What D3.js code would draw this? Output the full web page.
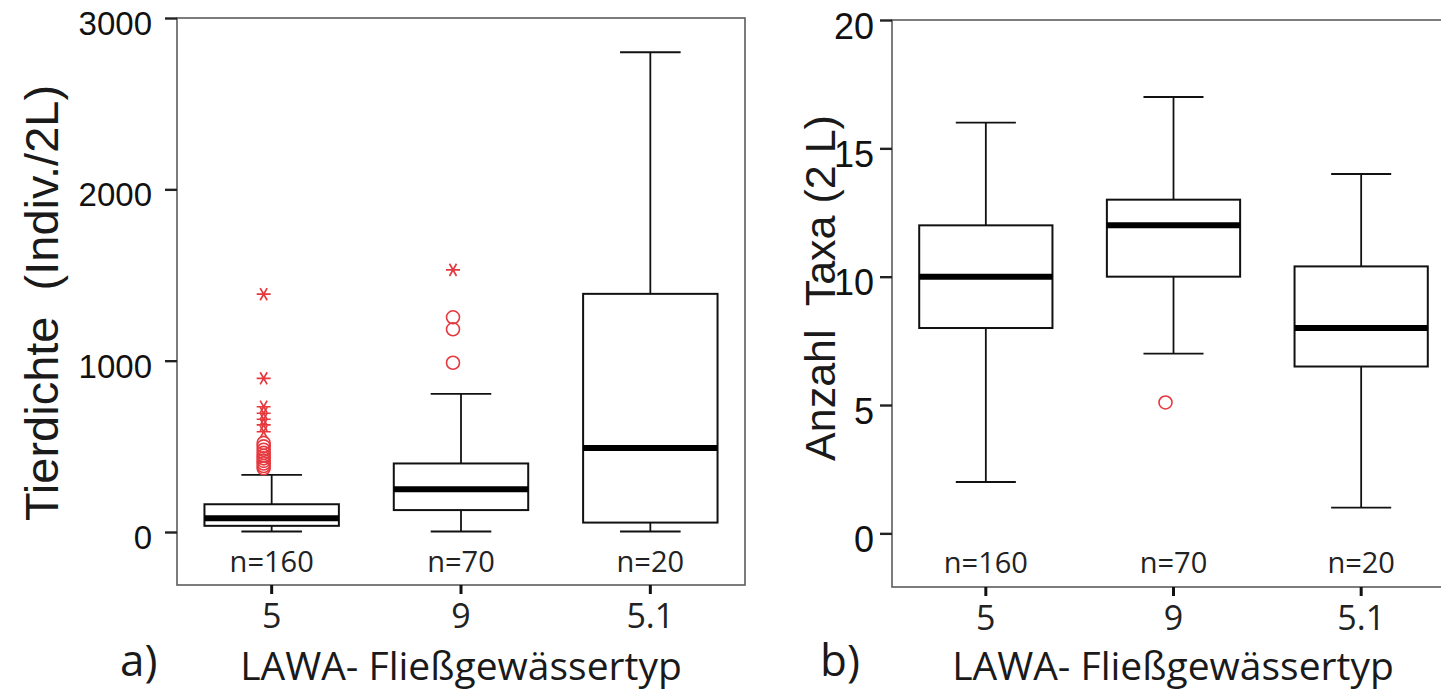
<!DOCTYPE html>
<html>
<head>
<meta charset="utf-8">
<script src="https://cdn.jsdelivr.net/npm/d3@7"></script>
<style>
  html, body { margin: 0; padding: 0; background: #fff; overflow: hidden; }
  text.keep-space { white-space: pre; }
</style>
</head>
<body>
<svg id="chart" width="1441" height="692"></svg>
<script>
// River types (LAWA-Fließgewässertyp) and sample counts
const categories = ["5", "9", "5.1"];
const sampleSizes = [160, 70, 20];

// a) Tierdichte (Indiv./2L)
const densityWhiskerLow = [3, 3, 3];
const densityQ1 = [36, 128, 55];
const densityMedian = [80, 250, 490];
const densityQ3 = [162, 400, 1390];
const densityWhiskerHigh = [333, 806, 2800];
const densityOutliers = [[520, 500, 480, 462, 445, 430, 415, 400, 385, 372], [988, 1183, 1253], []];
const densityExtremes = [[585, 625, 658, 693, 731, 897, 1388], [1530], []];
const densityTicks = [0, 1000, 2000, 3000];

// b) Anzahl Taxa (2 L)
const taxaWhiskerLow = [2, 7, 1];
const taxaQ1 = [8, 10, 6.5];
const taxaMedian = [10, 12, 8];
const taxaQ3 = [12, 13, 10.4];
const taxaWhiskerHigh = [16, 17, 14];
const taxaOutliers = [[], [5.1], []];
const taxaExtremes = [[], [], []];
const taxaTicks = [0, 5, 10, 15, 20];

const svg = d3.select("#chart");
const RED = "#e4393f";
const SANS = "'Liberation Sans', Arial, sans-serif";
const UI = "'Open Sans', 'DejaVu Sans', sans-serif";

function drawPanel(cfg) {
  const g = svg.append("g");
  const x = d3.scaleBand().domain(categories).range([cfg.left, cfg.right]).padding(0);
  const y = d3.scaleLinear().domain(cfg.domain).range([cfg.bottom, cfg.top]);
  const bw = x.bandwidth();
  const boxW = bw * 0.71;
  const capW = bw * 0.32;
  const outDx = -8;

  // frame
  g.append("rect")
    .attr("x", cfg.left).attr("y", cfg.top)
    .attr("width", cfg.right - cfg.left).attr("height", cfg.bottom - cfg.top)
    .attr("fill", "none").attr("stroke", "#5c5c5c").attr("stroke-width", 1.6);

  // y axis
  const ya = g.append("g")
    .attr("transform", `translate(${cfg.left},0)`)
    .call(d3.axisLeft(y).tickValues(cfg.ticks).tickSize(12).tickPadding(cfg.yPad).tickFormat(d3.format("d")));
  ya.select(".domain").remove();
  ya.selectAll(".tick line").attr("stroke", "#222").attr("stroke-width", 2.4);
  ya.selectAll(".tick text")
    .attr("font-family", SANS).attr("font-size", cfg.yFont).attr("fill", "#111")
    .attr("dy", cfg.yDy);

  // x axis
  const xa = g.append("g")
    .attr("transform", `translate(0,${cfg.bottom})`)
    .call(d3.axisBottom(x).tickSize(9).tickPadding(cfg.xPad));
  xa.select(".domain").remove();
  xa.selectAll(".tick line").attr("stroke", "#111").attr("stroke-width", 3);
  xa.selectAll(".tick text")
    .attr("font-family", UI).attr("font-size", cfg.xFont).attr("fill", "#222");

  const rows = categories.map((c, i) => ({
    c, n: cfg.n[i], lo: cfg.lo[i], q1: cfg.q1[i], med: cfg.med[i], q3: cfg.q3[i], hi: cfg.hi[i],
    out: cfg.out[i], ext: cfg.ext[i]
  }));

  const grp = g.selectAll("g.box").data(rows).join("g").attr("class", "box")
    .attr("transform", d => `translate(${x(d.c) + bw / 2},0)`);

  // whiskers
  grp.append("line").attr("x1", 0).attr("x2", 0).attr("y1", d => y(d.lo)).attr("y2", d => y(d.q1))
    .attr("stroke", "#111").attr("stroke-width", 1.8);
  grp.append("line").attr("x1", 0).attr("x2", 0).attr("y1", d => y(d.q3)).attr("y2", d => y(d.hi))
    .attr("stroke", "#111").attr("stroke-width", 1.8);
  grp.append("line").attr("x1", -capW / 2).attr("x2", capW / 2).attr("y1", d => y(d.lo)).attr("y2", d => y(d.lo))
    .attr("stroke", "#111").attr("stroke-width", 1.8);
  grp.append("line").attr("x1", -capW / 2).attr("x2", capW / 2).attr("y1", d => y(d.hi)).attr("y2", d => y(d.hi))
    .attr("stroke", "#111").attr("stroke-width", 1.8);

  // box and median
  grp.append("rect").attr("x", -boxW / 2).attr("width", boxW)
    .attr("y", d => y(d.q3)).attr("height", d => y(d.q1) - y(d.q3))
    .attr("fill", "#fff").attr("stroke", "#111").attr("stroke-width", 2);
  grp.append("line").attr("x1", -boxW / 2).attr("x2", boxW / 2)
    .attr("y1", d => y(d.med)).attr("y2", d => y(d.med))
    .attr("stroke", "#000").attr("stroke-width", 6);

  // outliers (circles) and extreme values (asterisks)
  grp.selectAll("circle.out").data(d => d.out).join("circle").attr("class", "out")
    .attr("cx", outDx).attr("cy", v => y(v)).attr("r", 6.5)
    .attr("fill", "none").attr("stroke", RED).attr("stroke-width", 1.6);
  const star = "M-7,0H7M-3.5,-6.1L3.5,6.1M-3.5,6.1L3.5,-6.1";
  grp.selectAll("path.ext").data(d => d.ext).join("path").attr("class", "ext")
    .attr("transform", v => `translate(${outDx},${y(v)})`)
    .attr("d", star).attr("fill", "none").attr("stroke", RED).attr("stroke-width", 1.7);

  // sample size labels
  grp.append("text").attr("x", 0).attr("y", cfg.nY)
    .attr("text-anchor", "middle").attr("font-family", UI).attr("font-size", 29).attr("fill", "#222")
    .text(d => "n=" + d.n);

  // axis titles and panel letter
  g.append("text").attr("class", "keep-space")
    .attr("transform", `translate(${cfg.yTitleX},${cfg.yTitleY}) rotate(-90)`)
    .attr("text-anchor", "middle").attr("dy", "0.35em")
    .attr("font-family", SANS).attr("font-size", cfg.yTitleFont).attr("fill", "#1a1a1a")
    .text(cfg.yTitle);
  g.append("text").attr("x", cfg.xTitleX).attr("y", cfg.xTitleY)
    .attr("text-anchor", "middle").attr("font-family", UI).attr("font-size", 39).attr("fill", "#1a1a1a")
    .text("LAWA- Fließgewässertyp");
  g.append("text").attr("x", cfg.letterX).attr("y", cfg.xTitleY - 4)
    .attr("font-family", UI).attr("font-size", 44).attr("fill", "#1a1a1a")
    .text(cfg.letter);
}

drawPanel({
  left: 177, right: 745, top: 18, bottom: 585,
  domain: [-309.3, 3000], ticks: densityTicks, yFont: 33, yPad: 13, yDy: "0.5em",
  xFont: 34, xPad: 10,
  n: sampleSizes, lo: densityWhiskerLow, q1: densityQ1, med: densityMedian, q3: densityQ3, hi: densityWhiskerHigh,
  out: densityOutliers, ext: densityExtremes, nY: 572,
  yTitle: "Tierdichte  (Indiv./2L)", yTitleX: 42, yTitleY: 303, yTitleFont: 47,
  xTitleX: 461, xTitleY: 680, letter: "a)", letterX: 120
});

drawPanel({
  left: 892, right: 1455, top: 20, bottom: 587,
  domain: [-2.09, 20], ticks: taxaTicks, yFont: 36, yPad: 6, yDy: "0.5em",
  xFont: 34, xPad: 10,
  n: sampleSizes, lo: taxaWhiskerLow, q1: taxaQ1, med: taxaMedian, q3: taxaQ3, hi: taxaWhiskerHigh,
  out: taxaOutliers, ext: taxaExtremes, nY: 573,
  yTitle: "Anzahl  Taxa (2 L)", yTitleX: 820, yTitleY: 288, yTitleFont: 43,
  xTitleX: 1173, xTitleY: 680, letter: "b)", letterX: 820
});
</script>
</body>
</html>
